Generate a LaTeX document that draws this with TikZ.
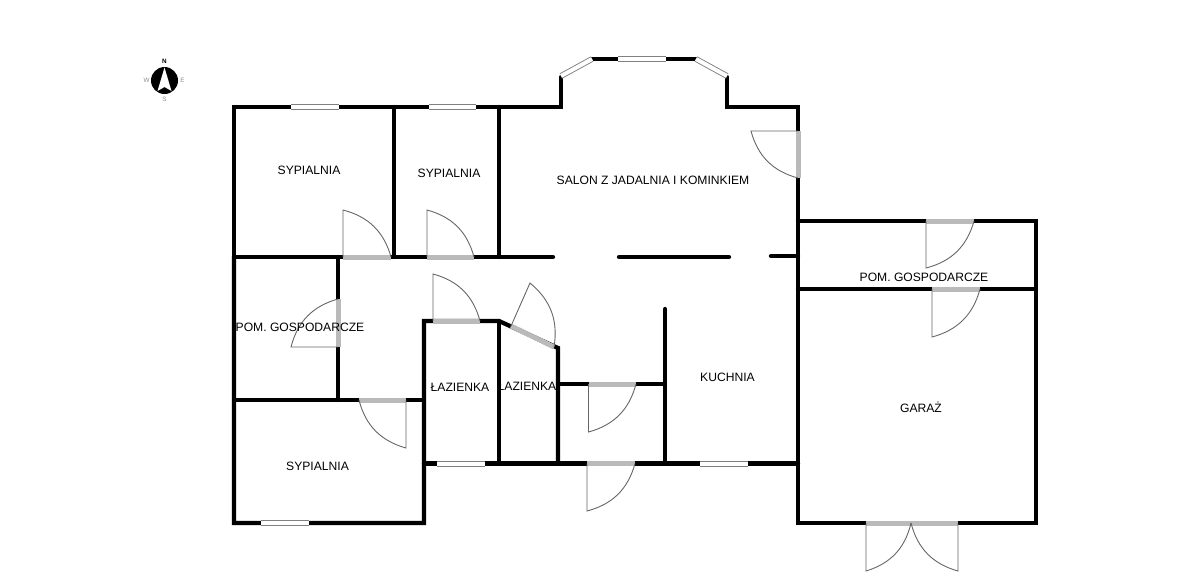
\documentclass[tikz,border=0pt]{standalone}
\usepackage{fontspec}
\setmainfont{Liberation Sans}
\colorlet{wallColor}{black}
\colorlet{doorColor}{black!27}
\colorlet{leafColor}{black!60}
\colorlet{windowColor}{black!50}
\tikzset{
	wall/.style={wallColor, line width=0.085cm, line cap=round, line join=miter},
	doorway/.style={doorColor, line width=0.1cm},
	leaf/.style={leafColor, line width=0.018cm},
	pane/.style={windowColor, line width=0.018cm, double=white, double distance=0.08cm},
	room/.style={font=\fontsize{6.9}{8}\selectfont, text=black},
	compassMark/.style={font=\fontsize{3.6}{4}\selectfont, text=black!45}
}
\begin{document}
\begin{tikzpicture}[x=0.02cm,y=-0.02cm]
				\useasboundingbox (0,0) rectangle (1200,583);
				% walls
				\draw[wall] (234,257) -- (234,107) -- (561,107) -- (561,77);
				\draw[wall] (592,59) -- (696,59);
				\draw[wall] (727,77) -- (727,107) -- (798,107) -- (798,523) -- (1036,523) -- (1036,221) -- (798,221);
				\draw[wall] (234,257) -- (234,523) -- (424,523) -- (424,321) -- (499,321) -- (558,348) -- (558,463);
				\draw[wall] (394,107) -- (394,257);
				\draw[wall] (499,107) -- (499,257);
				\draw[wall] (499,321) -- (499,463);
				\draw[wall] (234,257) -- (553,257);
				\draw[wall] (619,257) -- (729,257);
				\draw[wall] (771,256) -- (798,256);
				\draw[wall] (338,257) -- (338,400);
				\draw[wall] (234,400) -- (424,400);
				\draw[wall] (424,463.5) -- (798,463.5);
				\draw[wall] (558,384) -- (665,384);
				\draw[wall] (665,309) -- (665,463);
				\draw[wall] (798,289) -- (1036,289);
				% windows
				\draw[pane] (291,107) -- (339,107);
				\draw[pane] (429,107) -- (476,107);
				\draw[pane] (561,76) -- (592,59);
				\draw[pane] (618,59) -- (666,59);
				\draw[pane] (696,59) -- (727,76);
				\draw[pane] (261,523) -- (309,523);
				\draw[pane] (437,464) -- (485,464);
				\draw[pane] (700,464) -- (748,464);
				% doors
				\draw[doorway] (343,257) -- (391,257);
				\draw[leaf] (343,257) -- (343,210) to[bend left=30] (391,257);
				\draw[doorway] (427,257) -- (474,257);
				\draw[leaf] (427,257) -- (427,210) to[bend left=30] (474,257);
				\draw[doorway] (798,131) -- (798,178);
				\draw[leaf] (798,131) -- (751,131) to[bend right=30] (798,178);
				\draw[doorway] (338,299) -- (338,347);
				\draw[leaf] (338,347) -- (291,347) to[bend left=30] (338,299);
				\draw[doorway] (359,400) -- (406,400);
				\draw[leaf] (406,400) -- (406,448) to[bend left=30] (359,400);
				\draw[doorway] (433,321) -- (480,321);
				\draw[leaf] (433,321) -- (433,274) to[bend left=30] (480,321);
				\draw[doorway] (511,326) -- (554,347);
				\draw[leaf] (511,326) -- (530,283) to[bend left=30] (554,347);
				\draw[doorway] (588.5,384) -- (636,384);
				\draw[leaf] (588.5,384) -- (588.5,432) to[bend right=30] (636,384);
				\draw[doorway] (587,463.5) -- (635,463.5);
				\draw[leaf] (587,463.5) -- (587,511) to[bend right=30] (635,463.5);
				\draw[doorway] (926,221) -- (974,221);
				\draw[leaf] (926,221) -- (926,268) to[bend right=30] (974,221);
				\draw[doorway] (932,289) -- (980,289);
				\draw[leaf] (932,289) -- (932,337) to[bend right=30] (980,289);
				\draw[doorway] (866,523) -- (958,523);
				\draw[leaf] (866,523) -- (866,571) to[bend right=30] (911,523);
				\draw[leaf] (958,523) -- (958,571) to[bend left=30] (911,523);
				% rooms
				\node[room] (bedroomA) at (309,170) {SYPIALNIA};
				\node[room] (bedroomB) at (449,173) {SYPIALNIA};
				\node[room] (bedroomC) at (317.5,466) {SYPIALNIA};
				\node[room] (salon) at (653,180) {SALON Z JADALNIA I KOMINKIEM};
				\node[room] (utilityA) at (300,327) {POM. GOSPODARCZE};
				\node[room] (utilityB) at (924,277) {POM. GOSPODARCZE};
				\node[room] (bathA) at (460,387) {ŁAZIENKA};
				\node[room] (bathB) at (527,386) {ŁAZIENKA};
				\node[room] (kitchen) at (727.5,377) {KUCHNIA};
				\node[room] (garage) at (921,407) {GARAŻ};
				% compass
				\fill[black] (164.5,80.5) circle [radius=13.5];
				\fill[white] (164.5,67.5) -- (171.5,91) -- (164.5,87) -- (157.5,91) -- cycle;
				\node[compassMark, text=black, font=\fontsize{3.6}{4}\bfseries\selectfont] (north) at (164.5,61.5) {N};
				\node[compassMark] (south) at (164.5,99) {S};
				\node[compassMark] (west) at (146.5,80.5) {W};
				\node[compassMark] (east) at (182.5,80.5) {E};
				\end{tikzpicture}
\end{document}
